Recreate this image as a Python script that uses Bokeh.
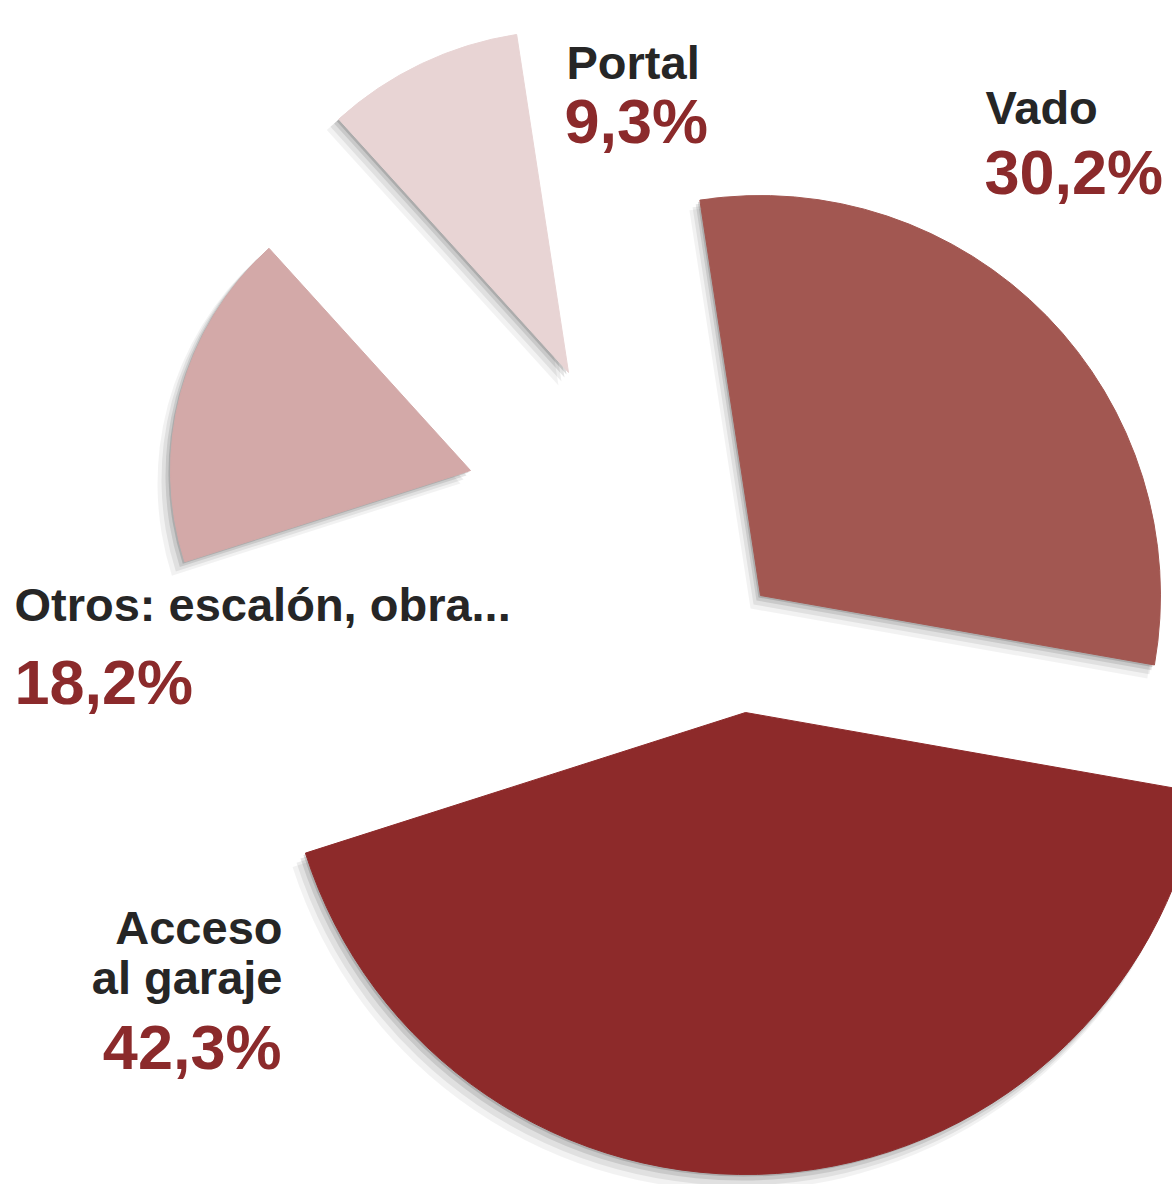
import math
from bokeh.plotting import figure
from bokeh.models import ColumnDataSource, Range1d
from bokeh.embed import file_html
from bokeh.resources import INLINE
from bokeh.core.properties import value

# ---------------- data ----------------
categories = ["Vado", "Portal", "Otros: escalón, obra...", "Acceso al garaje"]
shares = [30.2, 9.3, 18.2, 42.3]
name_lines = [["Vado"], ["Portal"], ["Otros: escalón, obra..."], ["Acceso", "al garaje"]]

# ---------------- style / layout ----------------
W, H = 1172, 1184
colors = ["#A25751", "#E8D4D4", "#D3A9A8", "#8D2A2A"]
start_deg = -10.0
tip_x = [760, 568, 470, 745]          # exploded slice tips (image px)
tip_y_img = [595, 372, 470, 712]
radii = [400, 342, 300, 462]
TEXT_DARK = "#262626"
PCT_COLOR = "#8B2A2B"
FONT = "Liberation Sans"
NAME_SIZE, PCT_SIZE = 47, 63

# baseline positions (image px)
name_pos = [[(985, 123, "left")], [(566, 78, "left")], [(14, 620, "left")],
            [(282, 943, "right"), (282, 993, "right")]]
pct_pos = [(984, 193, "left"), (564, 142, "left"), (14, 703, "left"), (281, 1068, "right")]
BASELINE_FIX = 0.345  # em offset of rendered baseline


def Y(img_y):
    return H - img_y


total = sum(shares)
starts, ends = [], []
acc = 0.0
for s in shares:
    a0 = start_deg + 360.0 * acc / total
    acc += s
    a1 = start_deg + 360.0 * acc / total
    starts.append(math.radians(a0))
    ends.append(math.radians(a1))

src = ColumnDataSource(dict(
    x=tip_x, y=[Y(v) for v in tip_y_img], r=radii,
    start=starts, end=ends, color=colors, cat=categories, share=shares))

p = figure(width=W, height=H, x_range=Range1d(0, W), y_range=Range1d(0, H),
           output_backend="svg", toolbar_location=None, min_border=0)
p.axis.visible = False
p.grid.visible = False
p.outline_line_color = None
p.background_fill_color = "white"

# soft drop shadows (down-left)
for dx, dy, dr, alpha in [(-10, -13, 3, 0.05), (-7, -9, 2, 0.07), (-4, -5, 1, 0.10), (-2, -2, 0, 0.14)]:
    shadow = ColumnDataSource(dict(
        x=[v + dx for v in src.data["x"]], y=[v + dy for v in src.data["y"]],
        r=[v + dr for v in radii], start=starts, end=ends))
    p.wedge(x="x", y="y", radius="r", start_angle="start", end_angle="end",
            source=shadow, fill_color="#000000", fill_alpha=alpha, line_color=None)

p.wedge(x="x", y="y", radius="r", start_angle="start", end_angle="end",
        source=src, fill_color="color", line_color="color", line_width=1)

# labels
for i, lines in enumerate(name_lines):
    for txt, (lx, ly, al) in zip(lines, name_pos[i]):
        p.text(x=[lx], y=[Y(ly - BASELINE_FIX * NAME_SIZE)], text=[txt], text_font=value(FONT),
               text_font_style="bold", text_font_size=f"{NAME_SIZE}px", text_color=TEXT_DARK,
               text_align=al, text_baseline="alphabetic")
    lx, ly, al = pct_pos[i]
    pct = f"{shares[i]:.1f}".replace(".", ",") + "%"
    p.text(x=[lx], y=[Y(ly - BASELINE_FIX * PCT_SIZE)], text=[pct], text_font=value(FONT),
           text_font_style="bold", text_font_size=f"{PCT_SIZE}px", text_color=PCT_COLOR,
           text_align=al, text_baseline="alphabetic")

open("out.html", "w").write(file_html(p, INLINE))
